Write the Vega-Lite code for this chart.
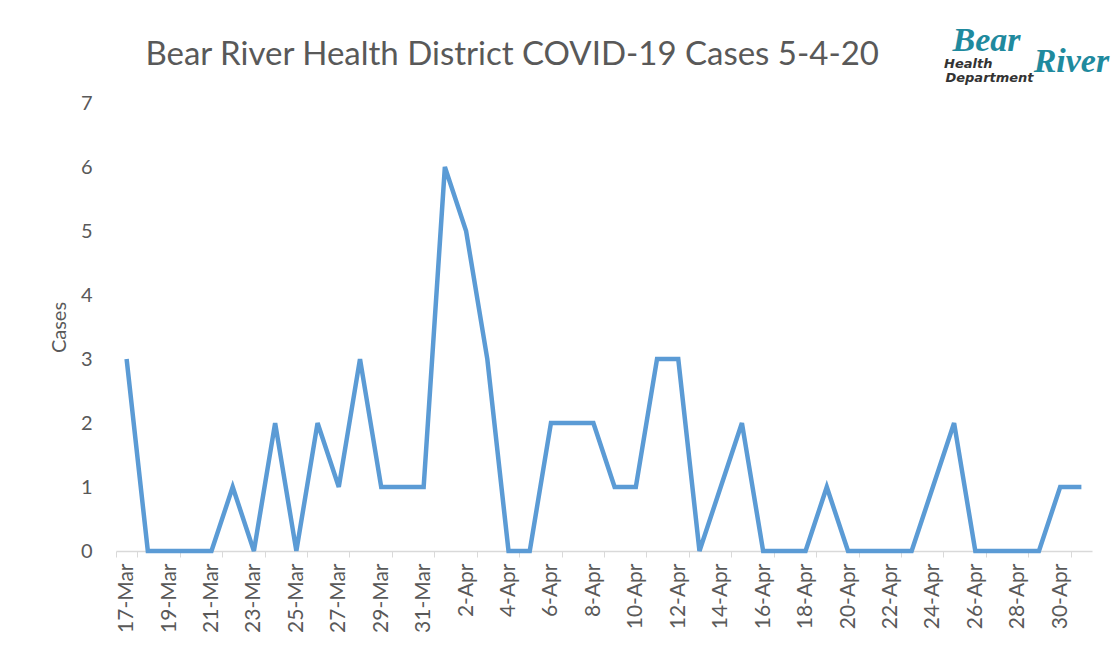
{
  "$schema": "https://vega.github.io/schema/vega-lite/v6.json",
  "width": 976,
  "height": 448,
  "autosize": {"type": "none"},
  "padding": {"left": 116, "top": 103, "right": 25, "bottom": 105},
  "background": "white",
  "config": {"view": {"stroke": null}, "font": "Lato"},
  "title": {
    "text": "Bear River Health District COVID-19 Cases 5-4-20",
    "anchor": "start",
    "dx": 96,
    "offset": -48,
    "fontSize": 33,
    "font": "Lato",
    "fontWeight": "normal",
    "color": "#595959"
  },
  "datasets": {
    "cases": [
      {"date": "17-Mar", "cases": 3},
      {"date": "18-Mar", "cases": 0},
      {"date": "19-Mar", "cases": 0},
      {"date": "20-Mar", "cases": 0},
      {"date": "21-Mar", "cases": 0},
      {"date": "22-Mar", "cases": 1},
      {"date": "23-Mar", "cases": 0},
      {"date": "24-Mar", "cases": 2},
      {"date": "25-Mar", "cases": 0},
      {"date": "26-Mar", "cases": 2},
      {"date": "27-Mar", "cases": 1},
      {"date": "28-Mar", "cases": 3},
      {"date": "29-Mar", "cases": 1},
      {"date": "30-Mar", "cases": 1},
      {"date": "31-Mar", "cases": 1},
      {"date": "1-Apr", "cases": 6},
      {"date": "2-Apr", "cases": 5},
      {"date": "3-Apr", "cases": 3},
      {"date": "4-Apr", "cases": 0},
      {"date": "5-Apr", "cases": 0},
      {"date": "6-Apr", "cases": 2},
      {"date": "7-Apr", "cases": 2},
      {"date": "8-Apr", "cases": 2},
      {"date": "9-Apr", "cases": 1},
      {"date": "10-Apr", "cases": 1},
      {"date": "11-Apr", "cases": 3},
      {"date": "12-Apr", "cases": 3},
      {"date": "13-Apr", "cases": 0},
      {"date": "14-Apr", "cases": 1},
      {"date": "15-Apr", "cases": 2},
      {"date": "16-Apr", "cases": 0},
      {"date": "17-Apr", "cases": 0},
      {"date": "18-Apr", "cases": 0},
      {"date": "19-Apr", "cases": 1},
      {"date": "20-Apr", "cases": 0},
      {"date": "21-Apr", "cases": 0},
      {"date": "22-Apr", "cases": 0},
      {"date": "23-Apr", "cases": 0},
      {"date": "24-Apr", "cases": 1},
      {"date": "25-Apr", "cases": 2},
      {"date": "26-Apr", "cases": 0},
      {"date": "27-Apr", "cases": 0},
      {"date": "28-Apr", "cases": 0},
      {"date": "29-Apr", "cases": 0},
      {"date": "30-Apr", "cases": 1},
      {"date": "1-May", "cases": 1}
    ],
    "logoBig": [
      {"date": "27-Apr", "cases": 7.81, "label": "Bear"},
      {"date": "1-May", "cases": 7.48, "label": "River"}
    ],
    "logoSmall": [
      {"date": "26-Apr", "cases": 7.55, "label": "Health"},
      {"date": "27-Apr", "cases": 7.33, "label": "Department"}
    ]
  },
  "layer": [
    {
      "data": {"name": "cases"},
      "mark": {"type": "line", "color": "#5B9BD5", "strokeWidth": 4.5},
      "encoding": {
        "x": {
          "field": "date",
          "type": "ordinal",
          "sort": null,
          "bandPosition": 0.5,
          "scale": {"type": "band", "paddingInner": 0, "paddingOuter": 0},
          "axis": {
            "title": null,
            "values": ["17-Mar","19-Mar","21-Mar","23-Mar","25-Mar","27-Mar","29-Mar","31-Mar","2-Apr","4-Apr","6-Apr","8-Apr","10-Apr","12-Apr","14-Apr","16-Apr","18-Apr","20-Apr","22-Apr","24-Apr","26-Apr","28-Apr","30-Apr"],
            "labelAngle": -90,
            "labelAlign": "right",
            "labelBaseline": "middle",
            "labelFontSize": 21,
            "labelFont": "Lato",
            "labelColor": "#595959",
            "labelPadding": 6,
            "tickBand": "extent",
            "tickColor": "#D9D9D9",
            "tickSize": 6,
            "domainColor": "#D9D9D9",
            "domainWidth": 1.5,
            "grid": false
          }
        },
        "y": {
          "field": "cases",
          "type": "quantitative",
          "scale": {"domain": [0, 7], "nice": false},
          "axis": {
            "title": "Cases",
            "titleFontSize": 20,
            "titleFont": "Lato",
            "titleFontWeight": "normal",
            "titleColor": "#595959",
            "titlePadding": 11,
            "values": [0, 1, 2, 3, 4, 5, 6, 7],
            "format": "d",
            "labelFontSize": 20,
            "labelFont": "Lato",
            "labelColor": "#595959",
            "labelPadding": 24,
            "domain": false,
            "ticks": false,
            "grid": false
          }
        }
      }
    },
    {
      "data": {"name": "logoBig"},
      "mark": {"type": "text", "font": "Liberation Serif", "fontStyle": "italic", "fontWeight": "bold", "fontSize": 34, "color": "#1F8A9E", "align": "center", "baseline": "alphabetic", "dx": -10},
      "encoding": {
        "x": {"field": "date", "type": "ordinal", "sort": null, "bandPosition": 0.5},
        "y": {"field": "cases", "type": "quantitative"},
        "text": {"field": "label"}
      }
    },
    {
      "data": {"name": "logoSmall"},
      "mark": {"type": "text", "font": "DejaVu Sans", "fontStyle": "italic", "fontWeight": "bold", "fontSize": 13, "color": "#333333", "align": "center", "baseline": "alphabetic", "dx": -7},
      "encoding": {
        "x": {"field": "date", "type": "ordinal", "sort": null, "bandPosition": 0.5},
        "y": {"field": "cases", "type": "quantitative"},
        "text": {"field": "label"}
      }
    }
  ]
}
